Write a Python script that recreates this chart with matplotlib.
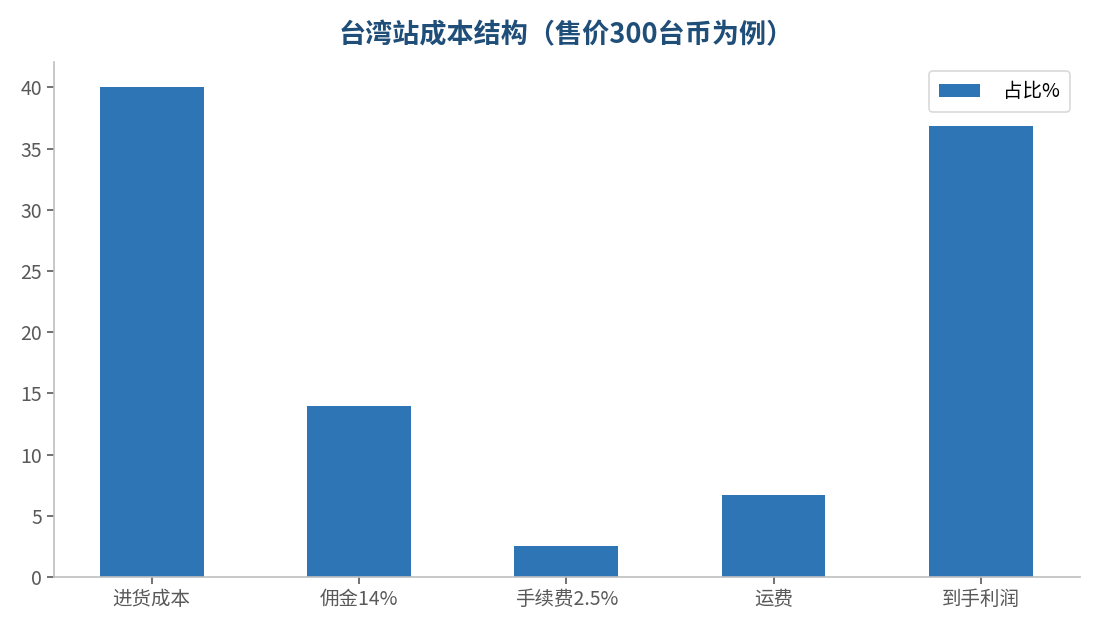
import numpy as np
import matplotlib
matplotlib.use('Agg')
import matplotlib.pyplot as plt

plt.rcParams['font.family'] = ['Noto Sans CJK SC', 'DejaVu Sans']

categories = ['进货成本', '佣金14%', '手续费2.5%', '运费', '到手利润']
share = [40.0, 14.0, 2.5, 6.67, 36.83]

fig = plt.figure(figsize=(10.95, 6.3), dpi=100)
ax = fig.add_axes([0.049, 0.084, 0.937, 0.818])

x = np.arange(len(categories))
ax.bar(x, share, width=0.5, color='#2e75b6', label='占比%')
ax.set_xlim(-0.473, len(categories) - 0.523)
ax.set_ylim(0, 42.1)
ax.set_xticks(x)
ax.set_xticklabels(categories)
ax.set_yticks(np.arange(0, 41, 5))

for s in ['top', 'right']:
    ax.spines[s].set_visible(False)
for s in ['left', 'bottom']:
    ax.spines[s].set_color('#bfbfbf')
    ax.spines[s].set_linewidth(1.2)
ax.tick_params(colors='#595959', labelsize=14, length=5, width=1.2)

ax.set_title('台湾站成本结构（售价300台币为例）', fontsize=19.5, fontweight='bold',
             color='#1f4e79', pad=13)
leg = ax.legend(loc='upper right', fontsize=14, frameon=True, fancybox=True,
                handlelength=2.1, borderpad=0.5, handletextpad=1.2)
leg.get_frame().set_edgecolor('#d0d0d0')
leg.get_frame().set_linewidth(1.2)

fig.savefig('out.png', dpi=100)
